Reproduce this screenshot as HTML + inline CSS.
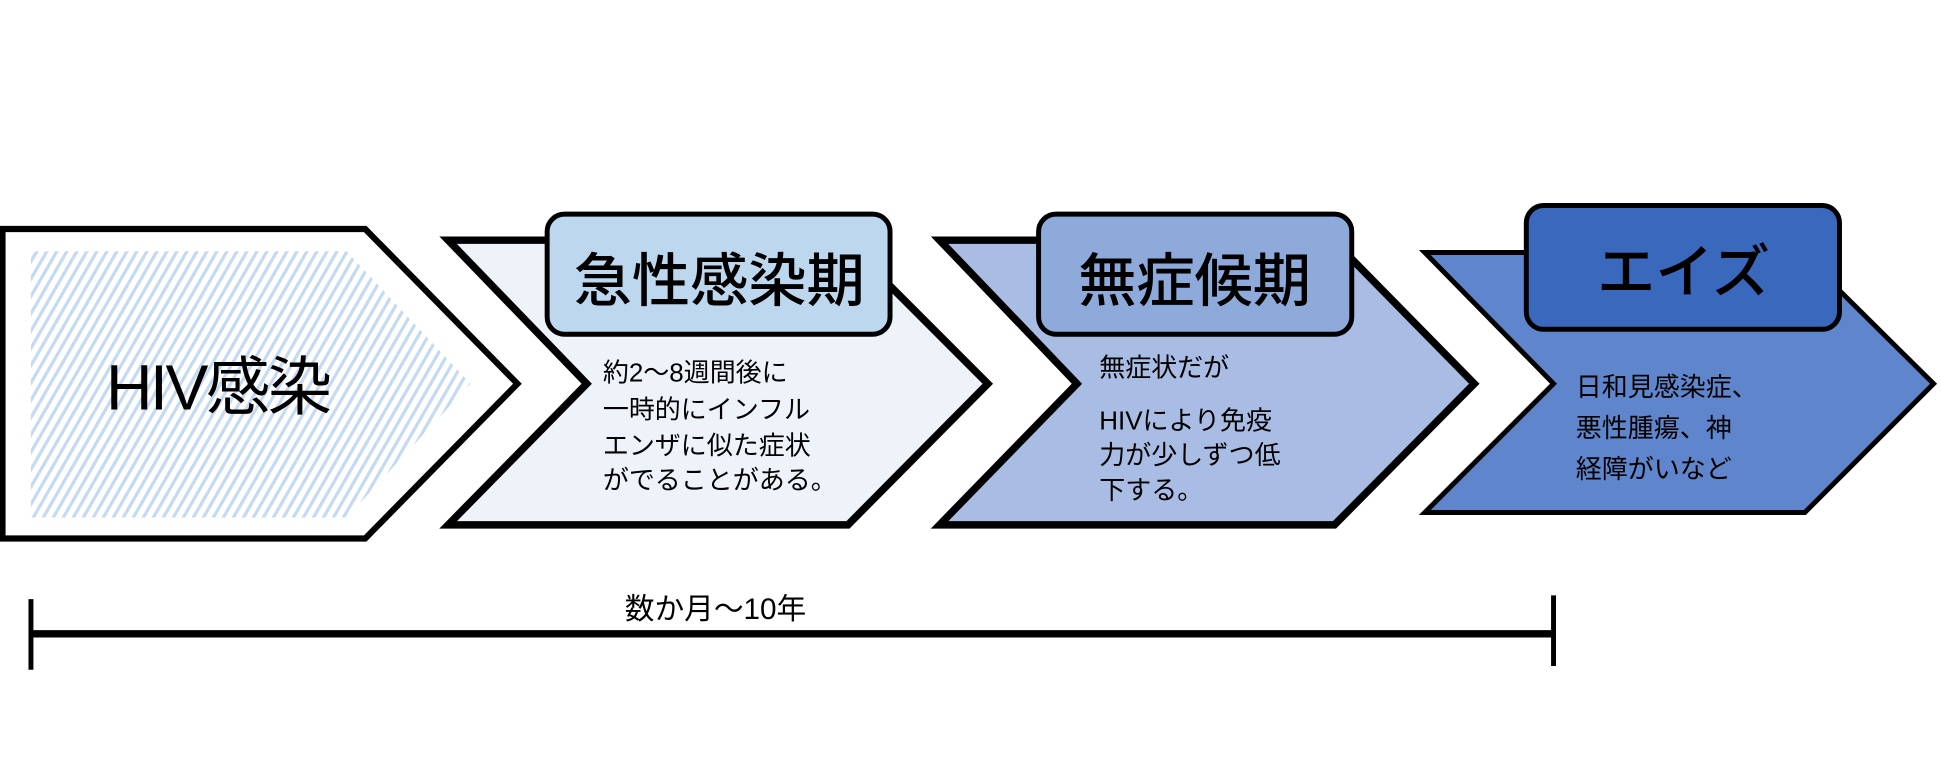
<!DOCTYPE html>
<html><head><meta charset="utf-8"><style>
html,body{margin:0;padding:0;background:#fff;}
svg{display:block;}
text{font-family:"Liberation Sans","Noto Sans CJK JP",sans-serif;fill:#000;}
</style></head><body>
<svg width="1941" height="768" viewBox="0 0 1568 620.4" preserveAspectRatio="none" xmlns="http://www.w3.org/2000/svg">
<defs>
<pattern id="h" width="7" height="7" patternUnits="userSpaceOnUse" patternTransform="rotate(30)">
<rect width="7" height="7" fill="#fff"/>
<rect width="2.6" height="7" fill="#c5daf0"/>
</pattern>
</defs>
<polygon points="2,185 295,185 418,310 295,435 2,435" fill="#fff" stroke="#000" stroke-width="5"/>
<polygon points="25,203 280,203 380,310 280,418 25,418" fill="url(#h)"/>
<text x="176" y="331" font-size="52" text-anchor="middle" letter-spacing="-2">HIV感染</text>
<polygon points="362,194 682,194 798,310 685,424 362,424 474,310" fill="#eef3fa" stroke="#000" stroke-width="6"/>
<rect x="442" y="173" width="277" height="97" rx="14" fill="#bdd7ee" stroke="#000" stroke-width="4"/>
<text x="581" y="243" font-size="47" font-weight="500" text-anchor="middle">急性感染期</text>
<g font-size="21">
<text x="487" y="308">約2〜8週間後に</text>
<text x="487" y="338">一時的にインフル</text>
<text x="487" y="367">エンザに似た症状</text>
<text x="487" y="395">がでることがある。</text>
</g>
<polygon points="759,194 1077,194 1191,310 1078,424 759,424 870,310" fill="#a9bde4" stroke="#000" stroke-width="6"/>
<rect x="839" y="173" width="253" height="97" rx="14" fill="#8eaadb" stroke="#000" stroke-width="4"/>
<text x="965" y="243" font-size="47" font-weight="500" text-anchor="middle">無症候期</text>
<g font-size="21">
<text x="888" y="304">無症状だが</text>
<text x="888" y="347">HIVにより免疫</text>
<text x="888" y="375">力が少しずつ低</text>
<text x="888" y="403">下する。</text>
</g>
<polygon points="1151,204 1455,204 1562,310 1458,414 1151,414 1255,310" fill="#5f86cc" stroke="#000" stroke-width="4"/>
<rect x="1233" y="166" width="253" height="100" rx="14" fill="#3a68bd" stroke="#000" stroke-width="4"/>
<text x="1360" y="236" font-size="47" font-weight="500" text-anchor="middle">エイズ</text>
<g font-size="21">
<text x="1273" y="320">日和見感染症、</text>
<text x="1273" y="353">悪性腫瘍、神</text>
<text x="1273" y="386">経障がいなど</text>
</g>
<line x1="25" y1="512" x2="1255" y2="512" stroke="#000" stroke-width="6"/>
<line x1="25" y1="484" x2="25" y2="541" stroke="#000" stroke-width="4"/>
<line x1="1255" y1="481" x2="1255" y2="538" stroke="#000" stroke-width="4"/>
<text x="578" y="500" font-size="24" text-anchor="middle">数か月〜10年</text>
</svg>
</body></html>
